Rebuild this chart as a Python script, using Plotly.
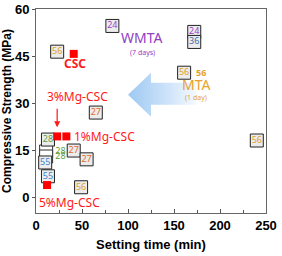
import plotly.graph_objects as go

# Red CSC series (setting time, strength)
csc_names = ["CSC", "3%Mg-CSC", "1%Mg-CSC", "5%Mg-CSC"]
csc_x = [41, 23, 33, 12]
csc_y = [45.7, 19.4, 19.4, 3.9]

# Boxed reference points (label = reference number)
ref_x = [23, 65, 83, 172, 172, 161, 240, 13, 10, 13, 41, 55, 49]
ref_y = [46.4, 27, 54.6, 52.7, 49.5, 39.7, 18.1, 18.4, 11.1, 6.7, 14.9, 12.1, 3.2]
ref_lbl = ["56", "27", "24", "24", "36", "56", "56", "28", "55", "55", "27", "27", "56"]
ref_col = ["#e0a126", "#e2692a", "#9a3fc8", "#9a3fc8", "#3f6fb0", "#e0a126", "#e0a126",
           "#5e9e3e", "#3a86d0", "#3a86d0", "#e2692a", "#e2692a", "#e0a126"]

# Empty boxes whose labels sit outside
emp_x = [11, 11]
emp_y = [14.6, 13.0]
emp_lbl = ["28", "28"]

# Big arrow outline (data coords)
arr_x = [100, 125, 125, 174, 174, 125, 125, 100]
arr_y = [32.7, 39.7, 36.5, 36.5, 29.5, 29.5, 25.7, 32.7]

fig = go.Figure()

fig.add_trace(go.Scatter(
    x=arr_x, y=arr_y, mode="lines", fill="toself", line=dict(width=0),
    fillgradient=dict(type="horizontal",
                      colorscale=[[0, "#9ec9f2"], [0.6, "#cfe4fa"], [1, "#f4f9ff"]]),
    hoverinfo="skip", showlegend=False))

fig.add_trace(go.Scatter(
    x=emp_x, y=emp_y, mode="markers+text", text=emp_lbl, textposition="middle right",
    textfont=dict(family="Noto Sans", size=9, color="#5e9e3e"),
    marker=dict(symbol="square", size=13, color="white", line=dict(color="#333", width=1)),
    showlegend=False))

fig.add_trace(go.Scatter(
    x=ref_x, y=ref_y, mode="markers+text", text=ref_lbl, textposition="middle center",
    textfont=dict(family="Noto Sans", size=9, color=ref_col),
    marker=dict(symbol="square", size=13, color="#ececec", line=dict(color="#222", width=1)),
    showlegend=False))

fig.add_trace(go.Scatter(
    x=csc_x, y=csc_y, mode="markers",
    marker=dict(symbol="square", size=8, color="#ff0000"),
    showlegend=False))

red = "#ff1a1a"
lab_font = "Noto Sans"
ann = [
    dict(x=42.4, y=42.5, text="<b>CSC</b>", font=dict(size=12, color=red, family=lab_font)),
    dict(x=44.6, y=32, text="3%Mg-CSC", font=dict(size=12, color=red, family=lab_font)),
    dict(x=39, y=19.4, text="1%Mg-CSC", xanchor="left", font=dict(size=12, color=red, family=lab_font)),
    dict(x=35.9, y=-1.6, text="5%Mg-CSC", font=dict(size=12, color=red, family=lab_font)),
    dict(x=115, y=50.8, text="WMTA", font=dict(size=14, color="#8e3fc4", family=lab_font)),
    dict(x=116, y=46.3, text="(7 days)", font=dict(size=7, color="#8e3fc4", family=lab_font)),
    dict(x=174, y=35.9, text="MTA", font=dict(size=14, color="#e5a32a", family=lab_font)),
    dict(x=174, y=31.7, text="(1 day)", font=dict(size=7, color="#e5a32a", family=lab_font)),
    dict(x=179, y=39.7, text="<b>56</b>", font=dict(size=9, color="#e5a32a", family=lab_font)),
]
for a in ann:
    a.update(showarrow=False, xref="x", yref="y")
    fig.add_annotation(**a)
fig.add_annotation(x=23, y=22.3, ax=0, ay=-20, text="", showarrow=True, arrowhead=2,
                   arrowsize=1, arrowwidth=1.2, arrowcolor=red, xref="x", yref="y")

axis_font = dict(family="Liberation Sans, Arial", size=13, color="black")
fig.update_xaxes(range=[0, 250], tickvals=[0, 50, 100, 150, 200, 250],
                 ticktext=["<b>%d</b>" % v for v in [0, 50, 100, 150, 200, 250]],
                 tickfont=axis_font, ticks="inside", ticklen=4, tickcolor="#555",
                 minor=dict(dtick=25, ticks="inside", ticklen=3, tickcolor="#555"),
                 showline=True, linecolor="#666", linewidth=1, mirror=True,
                 showgrid=False, zeroline=False, automargin=False,
                 title=dict(text="<b>Setting time (min)</b>",
                            font=dict(family="Liberation Sans, Arial", size=13, color="black"),
                            standoff=8))
fig.update_yaxes(range=[-5, 60], tickvals=[0, 15, 30, 45, 60],
                 ticktext=["<b>%d</b>" % v for v in [0, 15, 30, 45, 60]],
                 tickfont=axis_font, ticks="outside", ticklen=3, tickcolor="#555",
                 showline=True, linecolor="#666", linewidth=1, mirror=True,
                 showgrid=False, zeroline=False, automargin=False,
                 title=dict(text="<b>Compressive Strength (MPa)</b>",
                            font=dict(family="Liberation Sans, Arial", size=12, color="black"),
                            standoff=2))
fig.update_layout(width=282, height=256, margin=dict(l=36, r=16, t=9, b=43),
                  plot_bgcolor="white", paper_bgcolor="white")
fig.write_html("out.html", config={"displayModeBar": False},
               post_script="document.body.style.margin='0px';document.body.style.overflow='hidden';")
